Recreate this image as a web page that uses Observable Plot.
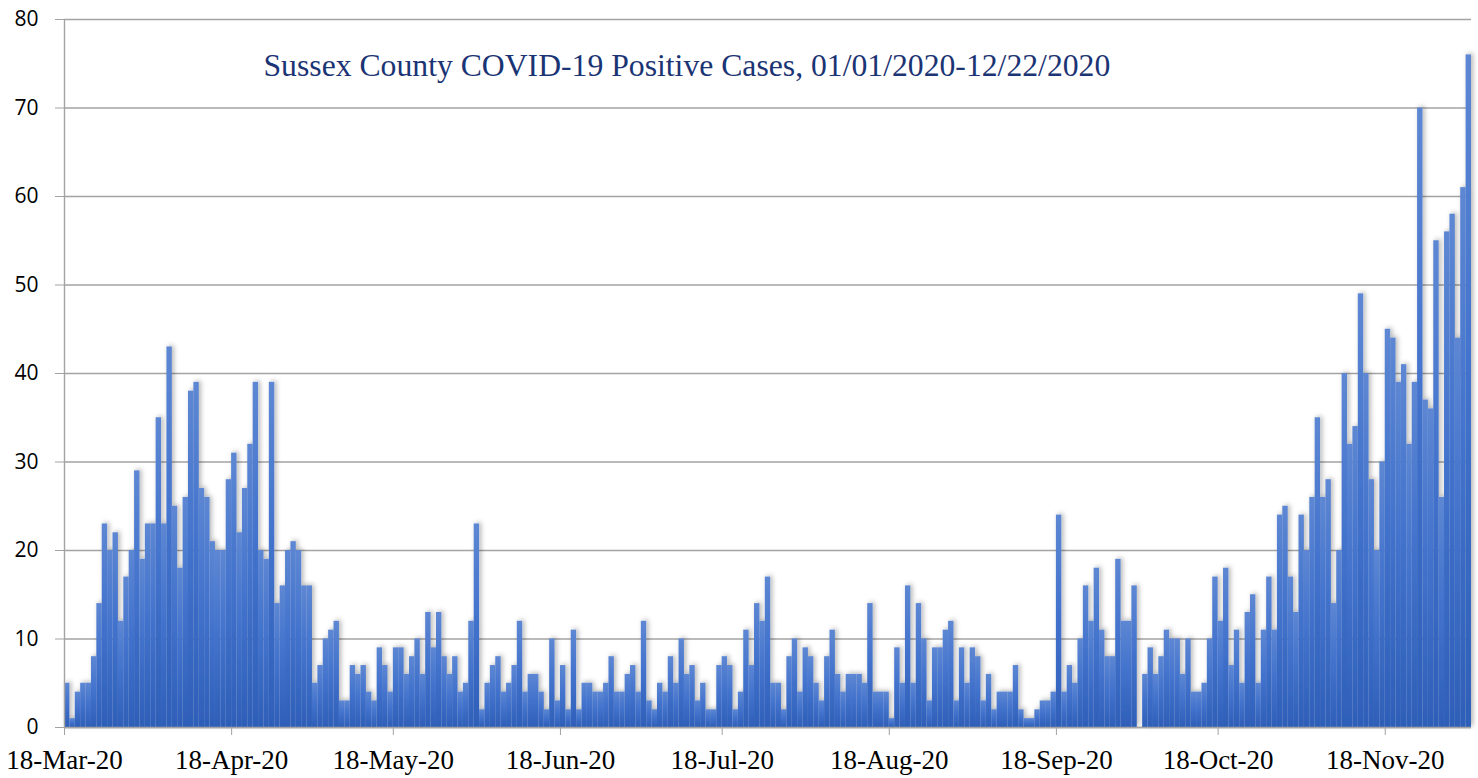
<!DOCTYPE html>
<html>
<head>
<meta charset="utf-8">
<script src="https://cdn.jsdelivr.net/npm/d3@7"></script>
<script src="https://cdn.jsdelivr.net/npm/@observablehq/plot@0.6"></script>
<style>
  html, body { margin: 0; padding: 0; background: #ffffff; }
  #chart { position: relative; width: 1478px; height: 778px; }
  #chart svg { display: block; }
</style>
</head>
<body>
<div id="chart"></div>
<script>
// ---- Data ----
const chartTitle = "Sussex County COVID-19 Positive Cases, 01/01/2020-12/22/2020";
const startDate = "2020-03-18";
const tickDates = ["2020-03-18","2020-04-18","2020-05-18","2020-06-18","2020-07-18",
                   "2020-08-18","2020-09-18","2020-10-18","2020-11-18"];
const yTicks = [0, 10, 20, 30, 40, 50, 60, 70, 80];
const cases = [
  5,1,4,5,5,8,14,23,20,22,12,17,20,29,19,23,23,35,23,43,25,18,26,38,39,27,26,21,20,20,
  28,31,22,27,32,39,20,19,39,14,16,20,21,
  20,16,16,5,7,10,11,12,3,3,7,6,7,4,3,9,7,4,9,9,6,8,10,6,13,9,13,8,6,8,4,5,12,23,2,5,
  7,8,4,5,7,12,4,6,
  6,4,2,10,3,7,2,11,2,5,5,4,4,5,8,4,4,6,7,4,12,3,2,5,4,8,5,10,6,7,3,5,2,2,7,8,7,2,4,11,7,14,
  12,17,5,5,2,8,10,4,9,8,5,3,8,11,6,4,6,6,6,5,14,4,4,4,1,9,5,16,5,14,10,3,9,9,11,12,3,9,5,9,8,3,6,2,
  4,4,4,7,2,1,1,2,3,3,4,24,4,7,5,10,16,12,18,11,8,8,19,12,12,16,0,6,9,6,8,11,10,10,6,10,4,4,5,10,17,12,18,
  7,11,5,13,15,5,11,17,11,24,25,17,13,24,20,26,35,26,28,14,20,40,32,34,49,40,28,20,30,45,44,39,41,32,39,70,
  37,36,55,26,56,58,44,61,76
];

// ---- Build table ----
const start = new Date(startDate + "T00:00:00Z");
const rows = cases.map((v, i) => ({
  d0: d3.utcDay.offset(start, i),
  d1: d3.utcDay.offset(start, i + 1),
  v
}));
const end = d3.utcDay.offset(start, cases.length);
const ticks = tickDates.map(s => new Date(s + "T00:00:00Z"));

const gridColor = "#a3a3a3";

const plot = Plot.plot({
  width: 1478,
  height: 778,
  marginLeft: 64,
  marginRight: 7,
  marginTop: 19,
  marginBottom: 51,
  style: { background: "#ffffff", overflow: "visible" },
  x: { type: "utc", domain: [start, end] },
  y: { domain: [0, 80] },
  marks: [
    Plot.gridY(yTicks, { stroke: gridColor, strokeOpacity: 1, strokeWidth: 1.4 }),
    Plot.rectY(rows, { x1: "d0", x2: "d1", y: "v", fill: "url(#barGrad)" }),
    Plot.ruleX([start], { stroke: gridColor, strokeWidth: 1.4 }),
    Plot.ruleY([0], { stroke: gridColor, strokeWidth: 1.4 }),
    Plot.axisY(yTicks, {
      tickSize: 9, tickPadding: 17, stroke: gridColor, label: null,
      fontSize: 21, fontFamily: "Open Sans", fill: "#000"
    }),
    Plot.axisX(ticks, {
      tickSize: 8, tickPadding: 14, stroke: gridColor, label: null,
      tickFormat: d3.utcFormat("%d-%b-%y"),
      fontSize: 27, fontFamily: "Liberation Serif", fill: "#000"
    }),
    Plot.text([chartTitle], {
      frameAnchor: "top-left", dx: 199, dy: 46, textAnchor: "start", lineAnchor: "middle",
      fontSize: 31.7, fontFamily: "Liberation Serif", fill: "#1b3474"
    })
  ]
});

// gradient + soft shadow for bars
const svg = d3.select(plot);
const defs = svg.insert("defs", ":first-child");
const grad = defs.append("linearGradient")
  .attr("id", "barGrad").attr("x1", 0).attr("y1", 0).attr("x2", 0).attr("y2", 1);
grad.append("stop").attr("offset", "0%").attr("stop-color", "#5d87d3");
grad.append("stop").attr("offset", "45%").attr("stop-color", "#4373cd");
grad.append("stop").attr("offset", "100%").attr("stop-color", "#2e5fb8");
const filt = defs.append("filter").attr("id", "barShadow")
  .attr("x", "-5%").attr("y", "-5%").attr("width", "110%").attr("height", "110%");
filt.append("feDropShadow").attr("dx", 2).attr("dy", -1).attr("stdDeviation", 2.5)
  .attr("flood-color", "#000").attr("flood-opacity", 0.3);
svg.selectAll("g[aria-label='rect']").attr("filter", "url(#barShadow)");

// fonts on axes (fallback)
svg.selectAll("g[aria-label='y-axis tick label']")
  .attr("font-family", "Open Sans").attr("font-size", 21);
svg.selectAll("g[aria-label='x-axis tick label']")
  .attr("font-family", "Liberation Serif").attr("font-size", 27);

document.getElementById("chart").appendChild(plot);
</script>
</body>
</html>
